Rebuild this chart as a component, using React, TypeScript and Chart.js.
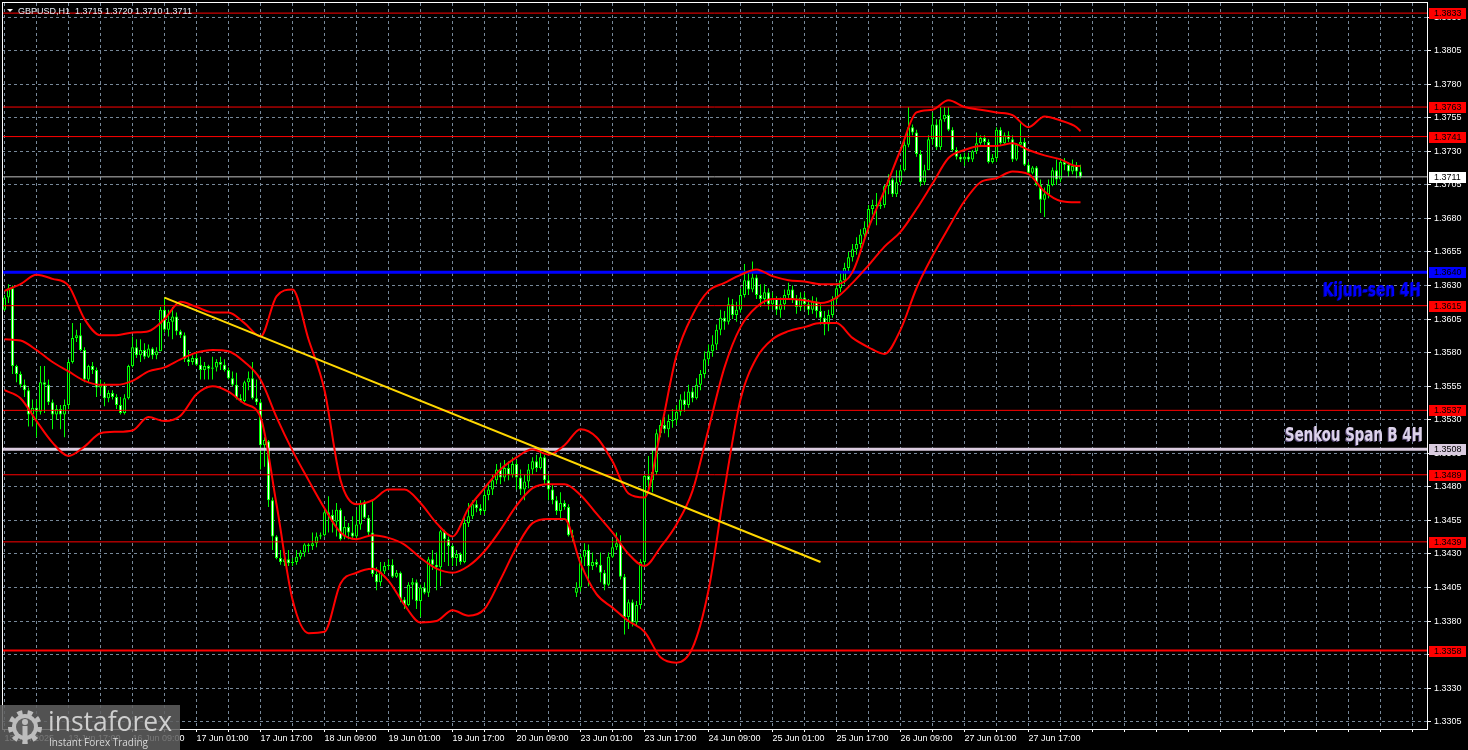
import React, { useEffect, useRef } from "react";
import { Chart, registerables } from "chart.js";

Chart.register(...registerables);

const chartTitle = "GBPUSD,H1  1.3715 1.3720 1.3710 1.3711";

const timeLabelIndex = [0, 16, 32, 48, 64, 80, 96, 112, 128, 144, 160, 176, 192, 208, 224, 240, 256];
const timeLabels = [
  "13 Jun 2025", "13 Jun 17:00", "16 Jun 09:00", "17 Jun 01:00", "17 Jun 17:00", "18 Jun 09:00",
  "19 Jun 01:00", "19 Jun 17:00", "20 Jun 09:00", "23 Jun 01:00", "23 Jun 17:00", "24 Jun 09:00",
  "25 Jun 01:00", "25 Jun 17:00", "26 Jun 09:00", "27 Jun 01:00", "27 Jun 17:00",
];

const priceTicks = [
  1.3305, 1.333, 1.3355, 1.338, 1.3405, 1.343, 1.3455, 1.348, 1.3505, 1.353, 1.3555,
  1.358, 1.3605, 1.363, 1.3655, 1.368, 1.3705, 1.373, 1.3755, 1.378, 1.3805, 1.383,
];

const candleOpen = [
  1.3612,1.3621,1.3628,1.3570,1.3564,1.3556,1.3552,1.3534,1.3539,1.3536,
  1.3558,1.3556,1.3543,1.3534,1.3538,1.3534,1.3541,1.3573,1.3591,1.3593,
  1.3582,1.3560,1.3570,1.3567,1.3554,1.3556,1.3546,1.3550,1.3547,1.3541,
  1.3535,1.3546,1.3570,1.3584,1.3578,1.3582,1.3577,1.3583,1.3578,1.3581,
  1.3612,1.3597,1.3603,1.3607,1.3596,1.3593,1.3575,1.3573,1.3576,1.3571,
  1.3567,1.3570,1.3568,1.3569,1.3573,1.3571,1.3567,1.3561,1.3556,1.3546,
  1.3544,1.3558,1.3561,1.3546,1.3543,1.3511,1.3514,1.3470,1.3443,1.3427,
  1.3424,1.3426,1.3423,1.3424,1.3428,1.3431,1.3437,1.3436,1.3438,1.3443,
  1.3444,1.3461,1.3459,1.3454,1.3463,1.3443,1.3450,1.3446,1.3443,1.3452,
  1.3469,1.3457,1.3446,1.3415,1.3409,1.3417,1.3421,1.3422,1.3413,1.3416,
  1.3396,1.3392,1.3407,1.3409,1.3395,1.3405,1.3401,1.3426,1.3422,1.3420,
  1.3447,1.3441,1.3436,1.3427,1.3430,1.3424,1.3453,1.3458,1.3467,1.3464,
  1.3462,1.3474,1.3478,1.3485,1.3493,1.3487,1.3494,1.3489,1.3497,1.3487,
  1.3478,1.3484,1.3493,1.3499,1.3494,1.3502,1.3485,1.3478,1.3470,1.3462,
  1.3468,1.3465,1.3444,1.3401,1.3405,1.3428,1.3433,1.3421,1.3424,1.3422,
  1.3416,1.3407,1.3428,1.3435,1.3438,1.3413,1.3383,1.3394,1.3379,1.3392,
  1.3424,1.3488,1.3485,1.3491,1.3520,1.3526,1.3523,1.3529,1.3530,1.3536,
  1.3545,1.3541,1.3551,1.3546,1.3556,1.3564,1.3575,1.3581,1.3586,1.3597,
  1.3606,1.3603,1.3616,1.3608,1.3612,1.3623,1.3634,1.3627,1.3636,1.3623,
  1.3620,1.3625,1.3616,1.3620,1.3612,1.3616,1.3623,1.3627,1.3620,1.3614,
  1.3621,1.3616,1.3612,1.3618,1.3611,1.3606,1.3601,1.3608,1.3620,1.3628,
  1.3634,1.3643,1.3651,1.3657,1.3661,1.3668,1.3673,1.3687,1.3690,1.3689,
  1.3690,1.3704,1.3709,1.3698,1.3707,1.3716,1.3735,1.3748,1.3744,1.3728,
  1.3707,1.3716,1.3739,1.3750,1.3733,1.3754,1.3757,1.3746,1.3731,1.3726,
  1.3724,1.3726,1.3724,1.3730,1.3736,1.3740,1.3737,1.3722,1.3725,1.3746,
  1.3736,1.3742,1.3739,1.3724,1.3735,1.3737,1.3720,1.3714,1.3718,1.3705,
  1.3694,1.3698,1.3705,1.3716,1.3709,1.3722,1.3720,1.3715,1.3719,1.3715,
];

const candleHigh = [
  1.3623,1.3631,1.3630,1.3571,1.3566,1.3560,1.3554,1.3545,1.3545,1.3570,
  1.3570,1.3560,1.3545,1.3541,1.3541,1.3545,1.3575,1.3602,1.3597,1.3602,
  1.3584,1.3571,1.3573,1.3569,1.3560,1.3558,1.3552,1.3552,1.3549,1.3547,
  1.3549,1.3571,1.3592,1.3590,1.3590,1.3587,1.3586,1.3584,1.3584,1.3614,
  1.3621,1.3612,1.3614,1.3610,1.3597,1.3595,1.3582,1.3578,1.3580,1.3577,
  1.3573,1.3571,1.3577,1.3575,1.3577,1.3575,1.3569,1.3566,1.3565,1.3549,
  1.3559,1.3566,1.3573,1.3560,1.3545,1.3517,1.3515,1.3472,1.3444,1.3433,
  1.3431,1.3433,1.3427,1.3433,1.3433,1.3438,1.3438,1.3446,1.3446,1.3446,
  1.3463,1.3473,1.3463,1.3468,1.3464,1.3458,1.3453,1.3458,1.3463,1.3470,
  1.3470,1.3459,1.3470,1.3420,1.3424,1.3424,1.3426,1.3426,1.3418,1.3417,
  1.3398,1.3409,1.3412,1.3411,1.3407,1.3409,1.3428,1.3433,1.3431,1.3448,
  1.3448,1.3443,1.3437,1.3433,1.3431,1.3458,1.3468,1.3470,1.3470,1.3467,
  1.3478,1.3483,1.3489,1.3497,1.3498,1.3500,1.3499,1.3502,1.3500,1.3493,
  1.3489,1.3497,1.3502,1.3504,1.3509,1.3504,1.3489,1.3482,1.3473,1.3476,
  1.3470,1.3467,1.3448,1.3409,1.3430,1.3438,1.3437,1.3431,1.3426,1.3431,
  1.3418,1.3431,1.3441,1.3446,1.3444,1.3415,1.3396,1.3396,1.3395,1.3426,
  1.3489,1.3503,1.3508,1.3523,1.3530,1.3532,1.3534,1.3538,1.3541,1.3549,
  1.3551,1.3556,1.3554,1.3561,1.3567,1.3581,1.3586,1.3593,1.3601,1.3612,
  1.3611,1.3621,1.3620,1.3618,1.3628,1.3646,1.3640,1.3648,1.3638,1.3631,
  1.3631,1.3628,1.3625,1.3622,1.3621,1.3627,1.3632,1.3630,1.3623,1.3625,
  1.3625,1.3620,1.3622,1.3621,1.3616,1.3611,1.3612,1.3622,1.3632,1.3640,
  1.3647,1.3655,1.3661,1.3666,1.3672,1.3678,1.3690,1.3694,1.3699,1.3695,
  1.3705,1.3713,1.3710,1.3716,1.3720,1.3739,1.3763,1.3750,1.3746,1.3731,
  1.3720,1.3742,1.3759,1.3754,1.3763,1.3763,1.3763,1.3748,1.3733,1.3728,
  1.3729,1.3729,1.3731,1.3744,1.3742,1.3742,1.3739,1.3728,1.3748,1.3748,
  1.3744,1.3745,1.3742,1.3736,1.3751,1.3740,1.3722,1.3719,1.3719,1.3709,
  1.3703,1.3709,1.3718,1.3724,1.3725,1.3725,1.3722,1.3724,1.3722,1.3720,
];

const candleLow = [
  1.3611,1.3617,1.3564,1.3558,1.3554,1.3547,1.3525,1.3525,1.3517,1.3534,
  1.3535,1.3541,1.3523,1.3530,1.3523,1.3517,1.3538,1.3572,1.3588,1.3581,
  1.3558,1.3558,1.3564,1.3547,1.3549,1.3540,1.3543,1.3545,1.3538,1.3534,
  1.3534,1.3545,1.3569,1.3576,1.3573,1.3575,1.3576,1.3575,1.3575,1.3581,
  1.3595,1.3592,1.3590,1.3593,1.3591,1.3573,1.3570,1.3571,1.3570,1.3560,
  1.3560,1.3560,1.3560,1.3566,1.3567,1.3566,1.3560,1.3555,1.3545,1.3543,
  1.3543,1.3552,1.3545,1.3541,1.3493,1.3495,1.3465,1.3433,1.3426,1.3422,
  1.3421,1.3421,1.3421,1.3422,1.3426,1.3428,1.3431,1.3433,1.3435,1.3441,
  1.3443,1.3446,1.3446,1.3443,1.3440,1.3441,1.3441,1.3441,1.3441,1.3448,
  1.3456,1.3443,1.3413,1.3403,1.3406,1.3415,1.3418,1.3412,1.3412,1.3394,
  1.3389,1.3391,1.3396,1.3389,1.3383,1.3400,1.3398,1.3418,1.3403,1.3406,
  1.3424,1.3421,1.3421,1.3421,1.3422,1.3423,1.3450,1.3456,1.3461,1.3459,
  1.3459,1.3470,1.3474,1.3482,1.3482,1.3484,1.3485,1.3487,1.3478,1.3474,
  1.3470,1.3479,1.3489,1.3491,1.3493,1.3482,1.3470,1.3467,1.3459,1.3456,
  1.3463,1.3443,1.3439,1.3398,1.3402,1.3421,1.3406,1.3418,1.3420,1.3409,
  1.3403,1.3406,1.3427,1.3433,1.3411,1.3370,1.3374,1.3376,1.3377,1.3389,
  1.3422,1.3478,1.3476,1.3489,1.3517,1.3520,1.3517,1.3524,1.3526,1.3533,
  1.3536,1.3539,1.3543,1.3545,1.3552,1.3561,1.3571,1.3577,1.3582,1.3593,
  1.3597,1.3601,1.3605,1.3603,1.3610,1.3621,1.3623,1.3625,1.3620,1.3614,
  1.3616,1.3612,1.3612,1.3608,1.3606,1.3612,1.3620,1.3617,1.3609,1.3611,
  1.3612,1.3608,1.3609,1.3606,1.3601,1.3593,1.3596,1.3606,1.3617,1.3625,
  1.3631,1.3640,1.3648,1.3653,1.3658,1.3664,1.3670,1.3683,1.3675,1.3687,
  1.3688,1.3698,1.3696,1.3696,1.3705,1.3715,1.3733,1.3742,1.3726,1.3704,
  1.3705,1.3716,1.3735,1.3731,1.3731,1.3752,1.3745,1.3730,1.3724,1.3722,
  1.3719,1.3722,1.3722,1.3728,1.3735,1.3735,1.3721,1.3721,1.3722,1.3735,
  1.3735,1.3737,1.3722,1.3723,1.3733,1.3719,1.3713,1.3713,1.3704,1.3684,
  1.3681,1.3695,1.3704,1.3705,1.3707,1.3716,1.3711,1.3713,1.3710,1.3710,
];

const candleClose = [
  1.3621,1.3628,1.3570,1.3564,1.3556,1.3552,1.3534,1.3539,1.3536,1.3558,
  1.3556,1.3543,1.3534,1.3538,1.3534,1.3541,1.3573,1.3591,1.3593,1.3582,
  1.3560,1.3570,1.3567,1.3554,1.3556,1.3546,1.3550,1.3547,1.3541,1.3535,
  1.3546,1.3570,1.3584,1.3578,1.3582,1.3577,1.3583,1.3578,1.3581,1.3612,
  1.3597,1.3603,1.3607,1.3596,1.3593,1.3575,1.3573,1.3576,1.3571,1.3567,
  1.3570,1.3568,1.3569,1.3573,1.3571,1.3567,1.3561,1.3556,1.3546,1.3544,
  1.3558,1.3561,1.3546,1.3543,1.3511,1.3515,1.3470,1.3443,1.3427,1.3424,
  1.3426,1.3423,1.3424,1.3428,1.3431,1.3437,1.3436,1.3438,1.3443,1.3444,
  1.3461,1.3459,1.3454,1.3463,1.3441,1.3450,1.3446,1.3443,1.3452,1.3468,
  1.3457,1.3446,1.3415,1.3409,1.3417,1.3421,1.3422,1.3413,1.3416,1.3396,
  1.3392,1.3407,1.3409,1.3395,1.3405,1.3401,1.3426,1.3422,1.3420,1.3447,
  1.3441,1.3436,1.3427,1.3430,1.3424,1.3453,1.3458,1.3467,1.3464,1.3462,
  1.3474,1.3478,1.3485,1.3493,1.3487,1.3494,1.3489,1.3497,1.3487,1.3478,
  1.3484,1.3493,1.3499,1.3494,1.3502,1.3485,1.3478,1.3470,1.3462,1.3468,
  1.3465,1.3444,1.3442,1.3405,1.3428,1.3433,1.3421,1.3424,1.3422,1.3416,
  1.3407,1.3428,1.3435,1.3438,1.3413,1.3383,1.3394,1.3379,1.3392,1.3424,
  1.3488,1.3485,1.3491,1.3520,1.3526,1.3523,1.3529,1.3530,1.3536,1.3545,
  1.3541,1.3551,1.3546,1.3556,1.3564,1.3575,1.3581,1.3586,1.3597,1.3606,
  1.3603,1.3616,1.3608,1.3612,1.3623,1.3634,1.3627,1.3636,1.3623,1.3620,
  1.3625,1.3616,1.3620,1.3612,1.3616,1.3623,1.3627,1.3620,1.3614,1.3621,
  1.3616,1.3612,1.3618,1.3611,1.3606,1.3601,1.3608,1.3620,1.3628,1.3634,
  1.3643,1.3651,1.3657,1.3661,1.3668,1.3673,1.3687,1.3690,1.3689,1.3690,
  1.3704,1.3709,1.3698,1.3707,1.3716,1.3735,1.3748,1.3744,1.3728,1.3707,
  1.3716,1.3739,1.3750,1.3733,1.3754,1.3757,1.3746,1.3731,1.3726,1.3724,
  1.3726,1.3724,1.3730,1.3736,1.3740,1.3737,1.3722,1.3725,1.3746,1.3736,
  1.3742,1.3739,1.3724,1.3735,1.3737,1.3720,1.3714,1.3718,1.3705,1.3694,
  1.3698,1.3705,1.3716,1.3709,1.3722,1.3720,1.3715,1.3719,1.3715,1.3711,
];

const bandIndex = [
  0, 4, 8, 12, 16, 20, 24, 28, 32, 36, 40, 44, 48, 52, 56, 60, 64, 68, 72, 76, 80, 84, 88, 92,
  96, 100, 104, 108, 112, 116, 120, 124, 128, 132, 136, 140, 144, 148, 152, 156, 160, 164, 168,
  172, 176, 180, 184, 188, 192, 196, 200, 204, 208, 212, 216, 220, 224, 228, 232, 236, 240, 244,
  248, 252, 256, 260, 264, 268, 269,
];

const bandUpper = [
  1.3626,1.3631,1.3638,1.3635,1.3630,1.3605,1.3593,1.3593,1.3595,1.3596,
  1.3605,1.3618,1.3614,1.3610,1.3610,1.3602,1.3592,1.3622,1.3627,1.3590,
  1.3552,1.3485,1.3467,1.3470,1.3478,1.3478,1.3468,1.3453,1.3443,1.3464,
  1.3479,1.3493,1.3502,1.3508,1.3504,1.3511,1.3523,1.3517,1.3499,1.3475,
  1.3472,1.3521,1.3578,1.3608,1.3626,1.3632,1.3638,1.3642,1.3637,1.3634,
  1.3633,1.3631,1.3631,1.3640,1.3673,1.3701,1.3731,1.3759,1.3761,1.3768,
  1.3763,1.3761,1.3759,1.3757,1.3748,1.3756,1.3753,1.3748,1.3745,
];

const bandMiddle = [
  1.3590,1.3589,1.3582,1.3573,1.3566,1.3559,1.3556,1.3556,1.3559,1.3566,
  1.3569,1.3575,1.3580,1.3582,1.3581,1.3573,1.3560,1.3532,1.3507,1.3485,
  1.3464,1.3446,1.3441,1.3444,1.3442,1.3437,1.3427,1.3419,1.3416,1.3421,
  1.3432,1.3448,1.3466,1.3479,1.3482,1.3482,1.3474,1.3460,1.3446,1.3430,
  1.3421,1.3435,1.3452,1.3477,1.3523,1.3569,1.3599,1.3614,1.3620,1.3620,
  1.3619,1.3617,1.3621,1.3632,1.3645,1.3659,1.3670,1.3687,1.3706,1.3725,
  1.3731,1.3734,1.3734,1.3736,1.3731,1.3727,1.3724,1.3719,1.3719,
];

const bandLower = [
  1.3552,1.3546,1.3529,1.3513,1.3503,1.3510,1.3520,1.3521,1.3522,1.3532,
  1.3529,1.3533,1.3549,1.3555,1.3551,1.3542,1.3532,1.3467,1.3396,1.3371,
  1.3372,1.3408,1.3416,1.3419,1.3410,1.3392,1.3379,1.3380,1.3388,1.3384,
  1.3389,1.3411,1.3435,1.3453,1.3456,1.3456,1.3423,1.3400,1.3390,1.3380,
  1.3372,1.3353,1.3349,1.3360,1.3403,1.3478,1.3545,1.3576,1.3590,1.3596,
  1.3599,1.3602,1.3602,1.3591,1.3584,1.3579,1.3597,1.3628,1.3652,1.3673,
  1.3693,1.3707,1.3710,1.3715,1.3713,1.3700,1.3693,1.3692,1.3692,
];

const redLevels = [1.3833, 1.3763, 1.3741, 1.3615, 1.3537, 1.3489, 1.3439, 1.3358];
const boldRedLevel = 1.3358;
const kijunLevel = 1.364;
const senkouLevel = 1.3508;
const lastPrice = 1.3711;

const trendIndex = [40, 204];
const trendPrice = [1.3621, 1.3424];

const kijunText = "Kijun-sen 4H";
const senkouText = "Senkou Span B 4H";
const logoText = "instaforex";
const logoSub = "Instant Forex Trading";

const W = 1468;
const H = 750;
const X_MIN = -0.625;
const X_MAX = 355.625;
const Y_MIN = 1.329956;
const Y_MAX = 1.384054;
const FONT = "'Liberation Sans', Arial, sans-serif";
const BOLD_NARROW = "'Liberation Sans Narrow', 'DejaVu Sans Condensed', 'Liberation Sans', sans-serif";

export default function App() {
  const canvasRef = useRef<HTMLCanvasElement | null>(null);

  useEffect(() => {
    document.body.style.margin = "0";
    document.body.style.background = "#000000";
    const canvas = canvasRef.current;
    if (!canvas) return;

    const idx = candleOpen.map((_, i) => i);
    const gridTicks: number[] = [];
    for (let v = 0; v <= 352; v += 8) gridTicks.push(v);

    const hLine = (v: number) => [
      { x: X_MIN, y: v },
      { x: X_MAX, y: v },
    ];
    const line = (data: any[], color: string, width: number, order: number, extra: any = {}) => ({
      type: "line",
      data,
      borderColor: color,
      backgroundColor: color,
      borderWidth: width,
      pointRadius: 0,
      pointHoverRadius: 0,
      fill: false,
      tension: 0,
      order,
      ...extra,
    });
    const bandData = (vals: number[]) => bandIndex.map((x, k) => ({ x, y: vals[k] }));

    const datasets: any[] = [
      {
        type: "bar",
        label: "wick",
        data: idx.map((i) => ({ x: i, y: [candleLow[i], candleHigh[i]] })),
        backgroundColor: "#00ff00",
        borderWidth: 0,
        barThickness: 1,
        maxBarThickness: 1,
        grouped: false,
        inflateAmount: 0,
        order: 20,
      },
      {
        type: "bar",
        label: "body",
        data: idx.map((i) => ({ x: i, y: [candleOpen[i], candleClose[i]] })),
        backgroundColor: idx.map((i) => (candleClose[i] >= candleOpen[i] ? "#000000" : "#ffffff")),
        borderColor: "#00ff00",
        borderWidth: 1,
        borderSkipped: false,
        barThickness: 3,
        maxBarThickness: 3,
        minBarLength: 1,
        grouped: false,
        inflateAmount: 0,
        order: 19,
      },
      ...redLevels.map((v) => line(hLine(v), "#ff0000", v === boldRedLevel ? 2 : 1, 10)),
      line(hLine(lastPrice), "#c0c0c0", 1, 10),
      line(hLine(kijunLevel), "#0000ff", 3, 9),
      line(hLine(senkouLevel), "#dacbdf", 3, 9),
      line(bandData(bandUpper), "#ff0000", 2, 3, { cubicInterpolationMode: "monotone" }),
      line(bandData(bandMiddle), "#ff0000", 2, 3, { cubicInterpolationMode: "monotone" }),
      line(bandData(bandLower), "#ff0000", 2, 3, { cubicInterpolationMode: "monotone" }),
      line(trendIndex.map((x, k) => ({ x, y: trendPrice[k] })), "#ffd700", 2, 1),
    ];

    const bgPlugin = {
      id: "mtBackground",
      beforeDraw(chart: any) {
        const { ctx } = chart;
        ctx.save();
        ctx.fillStyle = "#000000";
        ctx.fillRect(0, 0, chart.width, chart.height);
        ctx.restore();
      },
    };

    const drawFit = (
      ctx: CanvasRenderingContext2D,
      text: string,
      rightX: number,
      baseline: number,
      size: number,
      targetW: number,
      color: string,
      shade: string | null,
      weight = "bold",
      family = BOLD_NARROW
    ) => {
      ctx.save();
      ctx.font = `${weight} ${size}px ${family}`;
      const w = ctx.measureText(text).width || 1;
      const sx = targetW / w;
      ctx.translate(rightX - targetW, baseline);
      ctx.scale(sx, 1);
      ctx.textAlign = "left";
      ctx.textBaseline = "alphabetic";
      if (shade) {
        ctx.fillStyle = shade;
        ctx.fillText(text, -1 / sx, 0.5);
      }
      ctx.fillStyle = color;
      ctx.fillText(text, 0, 0);
      ctx.restore();
    };

    const overlayPlugin = {
      id: "mtOverlay",
      afterDraw(chart: any) {
        const { ctx, chartArea: a, scales } = chart;
        const ys = scales.y;
        ctx.save();
        ctx.setLineDash([]);
        // frame
        ctx.strokeStyle = "#ffffff";
        ctx.lineWidth = 1;
        ctx.strokeRect(a.left + 0.5, a.top - 0.5, a.right - a.left, a.bottom - a.top + 1);

        // price tags
        const tag = (v: number, bg: string, fg: string) => {
          const y = Math.round(ys.getPixelForValue(v));
          ctx.fillStyle = bg;
          ctx.fillRect(a.right + 2, y - 5, 37, 11);
          ctx.fillStyle = fg;
          ctx.font = `9px ${FONT}`;
          ctx.textAlign = "left";
          ctx.textBaseline = "middle";
          ctx.fillText(v.toFixed(4), a.right + 7, y + 1);
        };
        redLevels.forEach((v) => tag(v, "#ff0000", "#000000"));
        tag(kijunLevel, "#0000ff", "#000000");
        tag(senkouLevel, "#dacbdf", "#000000");
        tag(lastPrice, "#ffffff", "#000000");

        // indicator captions
        drawFit(ctx, kijunText, 1421, 296, 20, 98, "#0000ff", "#00008a");
        drawFit(ctx, senkouText, 1423, 441, 20, 138, "#dcd2ea", "#5a4c78");

        // title
        ctx.fillStyle = "#ffffff";
        ctx.beginPath();
        ctx.moveTo(7, 9);
        ctx.lineTo(13, 9);
        ctx.lineTo(10, 12);
        ctx.closePath();
        ctx.fill();
        ctx.font = `9px ${FONT}`;
        ctx.textAlign = "left";
        ctx.textBaseline = "alphabetic";
        ctx.fillStyle = "#e6ecf5";
        ctx.fillText(chartTitle, 18, 14);

        // watermark
        ctx.fillStyle = "rgba(96,96,96,0.86)";
        ctx.fillRect(0, 705, 180, 45);
        const gx = 25;
        const gy = 727;
        ctx.fillStyle = "#bdbdbd";
        ctx.beginPath();
        const teeth = 9;
        for (let t = 0; t < teeth * 2; t++) {
          const a0 = (t / (teeth * 2)) * Math.PI * 2;
          const a1 = ((t + 1) / (teeth * 2)) * Math.PI * 2;
          ctx.arc(gx, gy, t % 2 === 0 ? 17 : 13, a0, a1);
        }
        ctx.closePath();
        ctx.fill();
        ctx.fillStyle = "#606060";
        ctx.beginPath();
        ctx.arc(gx, gy, 9, 0, Math.PI * 2);
        ctx.fill();
        ctx.fillStyle = "#bdbdbd";
        ctx.beginPath();
        ctx.arc(gx, gy - 5, 3, 0, Math.PI * 2);
        ctx.fill();
        ctx.fillRect(gx - 2.5, gy - 1, 5, 14);
        drawFit(ctx, logoText, 172, 731, 28, 124, "#cfcfcf", null, "normal", "'Open Sans', 'Liberation Sans', sans-serif");
        drawFit(ctx, logoSub, 148, 746, 11, 99, "#d8d8d8", null, "normal", "'Open Sans', 'Liberation Sans', sans-serif");
        ctx.restore();
      },
    };

    const chart = new Chart(canvas, {
      type: "bar",
      data: { datasets },
      options: {
        responsive: false,
        animation: false,
        devicePixelRatio: 1,
        events: [],
        layout: { padding: { left: 2, top: 3, right: 0, bottom: 0 } },
        plugins: { legend: { display: false }, tooltip: { enabled: false } },
        scales: {
          x: {
            type: "linear",
            min: X_MIN,
            max: X_MAX,
            offset: false,
            grid: {
              color: "#778899",
              lineWidth: 1,
              offset: false,
              drawTicks: true,
              tickLength: 3,
              tickColor: "#ffffff",
              tickBorderDash: [],
            },
            border: { display: false, dash: [3, 3] },
            ticks: {
              color: "#ffffff",
              font: { family: FONT, size: 9 },
              padding: 1,
              align: "start",
              autoSkip: false,
              maxRotation: 0,
              minRotation: 0,
              callback: (value: any) => {
                const k = timeLabelIndex.indexOf(Number(value));
                return k >= 0 ? timeLabels[k] : "";
              },
            },
            afterBuildTicks: (s: any) => {
              s.ticks = gridTicks.map((v) => ({ value: v }));
            },
            afterFit: (s: any) => {
              s.height = 21;
              s.paddingLeft = 0;
              s.paddingRight = 0;
            },
          },
          y: {
            type: "linear",
            position: "right",
            min: Y_MIN,
            max: Y_MAX,
            beginAtZero: false,
            grid: {
              color: "#778899",
              lineWidth: 1,
              drawTicks: true,
              tickLength: 4,
              tickColor: "#ffffff",
              tickBorderDash: [],
            },
            border: { display: false, dash: [3, 3] },
            ticks: {
              color: "#ffffff",
              font: { family: FONT, size: 9 },
              padding: 3,
              autoSkip: false,
              callback: (value: any) => Number(value).toFixed(4),
            },
            afterBuildTicks: (s: any) => {
              s.ticks = priceTicks.map((v) => ({ value: v }));
            },
            afterFit: (s: any) => {
              s.width = 41;
              s.paddingTop = 0;
              s.paddingBottom = 0;
            },
          },
        },
      } as any,
      plugins: [bgPlugin, overlayPlugin],
    } as any);

    return () => {
      chart.destroy();
    };
  }, []);

  return (
    <div style={{ position: "absolute", left: 0, top: 0, width: W, height: H, background: "#000000" }}>
      <canvas ref={canvasRef} width={W} height={H} style={{ display: "block", width: W, height: H }} />
    </div>
  );
}
